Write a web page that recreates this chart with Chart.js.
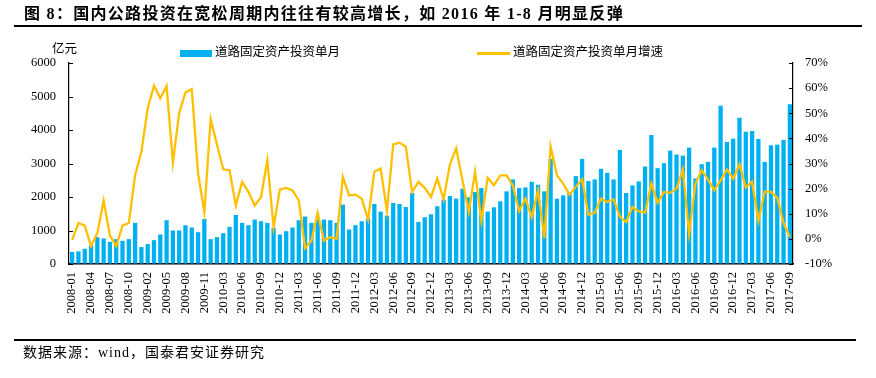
<!DOCTYPE html>
<html>
<head>
<meta charset="utf-8">
<script src="https://cdn.jsdelivr.net/npm/chart.js@4.4.1/dist/chart.umd.min.js"></script>
<style>
  html, body { margin: 0; padding: 0; background: #fff; }
  #wrap { position: relative; width: 876px; height: 378px; overflow: hidden; font-family: "Liberation Serif", "Noto Sans CJK SC", serif; color: #000; }
  #c { position: absolute; left: 0; top: 0; }
  .abs { position: absolute; white-space: nowrap; }
  #title { left: 24px; top: 4px; font-size: 16px; font-weight: bold; line-height: 20px; letter-spacing: 1.3px; }
  #tline { left: 14px; top: 25px; width: 848px; height: 1.5px; background: #000; }
  #bline { left: 14px; top: 339px; width: 842px; height: 1.5px; background: #000; }
  #foot { left: 23px; top: 344px; font-size: 14px; line-height: 18px; letter-spacing: 1px; }
  #unit { left: 52px; top: 41px; font-size: 12.5px; line-height: 16px; }
  .leg { top: 44px; font-size: 12.5px; line-height: 16px; }
  #lb1 { left: 180px; top: 50px; width: 32px; height: 7px; background: #00B0F0; }
  #lb2 { left: 477px; top: 52px; width: 33px; height: 2.5px; background: #FFC000; }
</style>
</head>
<body>
<div id="wrap">
  <canvas id="c" width="876" height="378"></canvas>
  <div class="abs" id="title">图 8：国内公路投资在宽松周期内往往有较高增长，如 2016 年 1-8 月明显反弹</div>
  <div class="abs" id="tline"></div>
  <div class="abs" id="unit">亿元</div>
  <div class="abs" id="lb1"></div>
  <div class="abs leg" style="left:215px">道路固定资产投资单月</div>
  <div class="abs" id="lb2"></div>
  <div class="abs leg" style="left:513px">道路固定资产投资单月增速</div>
  <div class="abs" id="bline"></div>
  <div class="abs" id="foot">数据来源：wind，国泰君安证券研究</div>
</div>
<script>
const categories = [
  "2008-01","2008-02","2008-03","2008-04","2008-05","2008-06","2008-07","2008-08","2008-09","2008-10","2008-11","2008-12",
  "2009-02","2009-03","2009-04","2009-05","2009-06","2009-07","2009-08","2009-09","2009-10","2009-11","2009-12",
  "2010-02","2010-03","2010-04","2010-05","2010-06","2010-07","2010-08","2010-09","2010-10","2010-11","2010-12",
  "2011-01","2011-02","2011-03","2011-04","2011-05","2011-06","2011-07","2011-08","2011-09","2011-10","2011-11","2011-12",
  "2012-01","2012-02","2012-03","2012-04","2012-05","2012-06","2012-07","2012-08","2012-09","2012-10","2012-11","2012-12",
  "2013-01","2013-02","2013-03","2013-04","2013-05","2013-06","2013-07","2013-08","2013-09","2013-10","2013-11","2013-12",
  "2014-01","2014-02","2014-03","2014-04","2014-05","2014-06","2014-07","2014-08","2014-09","2014-10","2014-11","2014-12",
  "2015-01","2015-02","2015-03","2015-04","2015-05","2015-06","2015-07","2015-08","2015-09","2015-10","2015-11","2015-12",
  "2016-01","2016-02","2016-03","2016-04","2016-05","2016-06","2016-07","2016-08","2016-09","2016-10","2016-11","2016-12",
  "2017-01","2017-02","2017-03","2017-04","2017-05","2017-06","2017-07","2017-08","2017-09"
];
// 道路固定资产投资单月 (亿元)
const monthlyInvestment = [
  360,376,455,554,802,762,663,742,693,742,1228,505,
  594,713,881,1307,1000,1000,1158,1089,950,1346,742,
  802,920,1109,1465,1228,1158,1327,1277,1228,1079,881,
  980,1089,1307,1416,1228,1327,1327,1307,1228,1772,1030,1158,
  1277,1356,1792,1564,1445,1822,1792,1703,2119,1257,1396,1485,
  1723,1921,2030,1950,2247,1990,2148,2267,1564,1693,1871,2168,
  2525,2267,2287,2455,2366,2168,3138,1950,2049,2148,2623,3138,
  2475,2525,2841,2723,2525,3406,2119,2346,2465,2911,3851,2861,
  3010,3386,3267,3237,3475,2554,2980,3049,3475,4722,3643,3742,
  4366,3950,3970,3732,3049,3544,3564,3703,4772
];
// 道路固定资产投资单月增速 (%)
const monthlyGrowth = [
  -0.4,6.3,5.3,-2.9,2.3,15.3,1.3,-2.9,5.3,6.3,25.3,34.7,
  52,61,56,60.8,30.4,50,58.3,59.6,26,10.7,47.7,
  37.6,27.7,27.3,13.3,22.7,18.7,13.3,16.7,31.3,4.7,19.7,
  20.3,19.3,15.3,-3.7,-0.7,10.4,-0.7,0.7,0,24.7,17.3,17.6,
  16,7.7,26.7,28,11.2,37.6,38.3,36.7,18.7,22.7,20.3,16.7,
  24,15.7,29.6,36,23.3,10.7,26.7,7.3,24.3,21.3,25.3,25.3,
  21.3,11.1,16,8.7,19.3,0.3,36.7,25.3,22,17.6,20.7,23.7,
  9.6,10.4,16,14.7,15.7,8.9,6.7,12.7,10.9,10.4,22,14.3,
  18.7,18.3,20,27.7,2,22,27.3,23.6,19.3,23.3,27.6,24,
  29.7,20.5,22.7,7.1,18.9,18.7,16.3,6.3,0.7
];
const leftTicks = { min: 0, max: 6000, step: 1000 };
const rightTicks = { min: -10, max: 70, step: 10 };
const labelEvery = 3;

const W = 876, H = 378;
const AREA = { left: 69, right: 793, top: 63, bottom: 264 };
const numFont = { family: "'Liberation Serif', 'Times New Roman', serif", size: 12.5 };

const innerTicks = {
  id: 'innerTicks',
  afterDraw(chart) {
    const ctx = chart.ctx;
    ctx.save();
    ctx.strokeStyle = '#000';
    ctx.lineWidth = 1;
    const y = chart.scales.y, y1 = chart.scales.y1;
    y.ticks.forEach((t, i) => {
      const p = Math.round(y.getPixelForTick(i)) + 0.5;
      ctx.beginPath(); ctx.moveTo(y.right, p); ctx.lineTo(y.right + 4, p); ctx.stroke();
    });
    y1.ticks.forEach((t, i) => {
      const p = Math.round(y1.getPixelForTick(i)) + 0.5;
      ctx.beginPath(); ctx.moveTo(y1.left - 4, p); ctx.lineTo(y1.left, p); ctx.stroke();
    });
    ctx.restore();
  }
};

new Chart(document.getElementById('c'), {
  data: {
    labels: categories,
    datasets: [
      {
        type: 'line',
        label: '道路固定资产投资单月增速',
        data: monthlyGrowth,
        yAxisID: 'y1',
        borderColor: '#FFC000',
        borderWidth: 2.3,
        pointRadius: 0,
        tension: 0,
        fill: false,
        order: 1
      },
      {
        type: 'bar',
        label: '道路固定资产投资单月',
        data: monthlyInvestment,
        yAxisID: 'y',
        backgroundColor: '#00B0F0',
        borderWidth: 0,
        barPercentage: 0.68,
        categoryPercentage: 1.0,
        order: 2
      }
    ]
  },
  options: {
    responsive: false,
    animation: false,
    devicePixelRatio: 1,
    layout: { padding: { top: AREA.top, left: 0, right: 0, bottom: 0 } },
    plugins: { legend: { display: false }, tooltip: { enabled: false }, title: { display: false } },
    scales: {
      x: {
        type: 'category',
        offset: true,
        grid: { display: true, drawOnChartArea: false, drawTicks: false },
        border: { color: '#000', width: 1.5 },
        ticks: {
          autoSkip: false, maxRotation: 90, minRotation: 90, padding: 8,
          color: '#000', font: numFont,
          callback: function (v, i) { return i % labelEvery === 0 ? categories[i] : ''; }
        },
        afterFit: s => { s.height = H - AREA.bottom; }
      },
      y: {
        position: 'left',
        min: leftTicks.min, max: leftTicks.max,
        grid: { display: true, drawOnChartArea: false, drawTicks: false },
        border: { color: '#000', width: 1.2 },
        ticks: { stepSize: leftTicks.step, padding: 13, color: '#000', font: numFont,
                 callback: v => String(v) },
        afterFit: s => { s.width = AREA.left; }
      },
      y1: {
        position: 'right',
        min: rightTicks.min, max: rightTicks.max,
        grid: { display: true, drawOnChartArea: false, drawTicks: false },
        border: { color: '#000', width: 1.2 },
        ticks: { stepSize: rightTicks.step, padding: 12, color: '#000', font: numFont,
                 callback: v => v + '%' },
        afterFit: s => { s.width = W - AREA.right; }
      }
    }
  },
  plugins: [innerTicks]
});
</script>
</body>
</html>
